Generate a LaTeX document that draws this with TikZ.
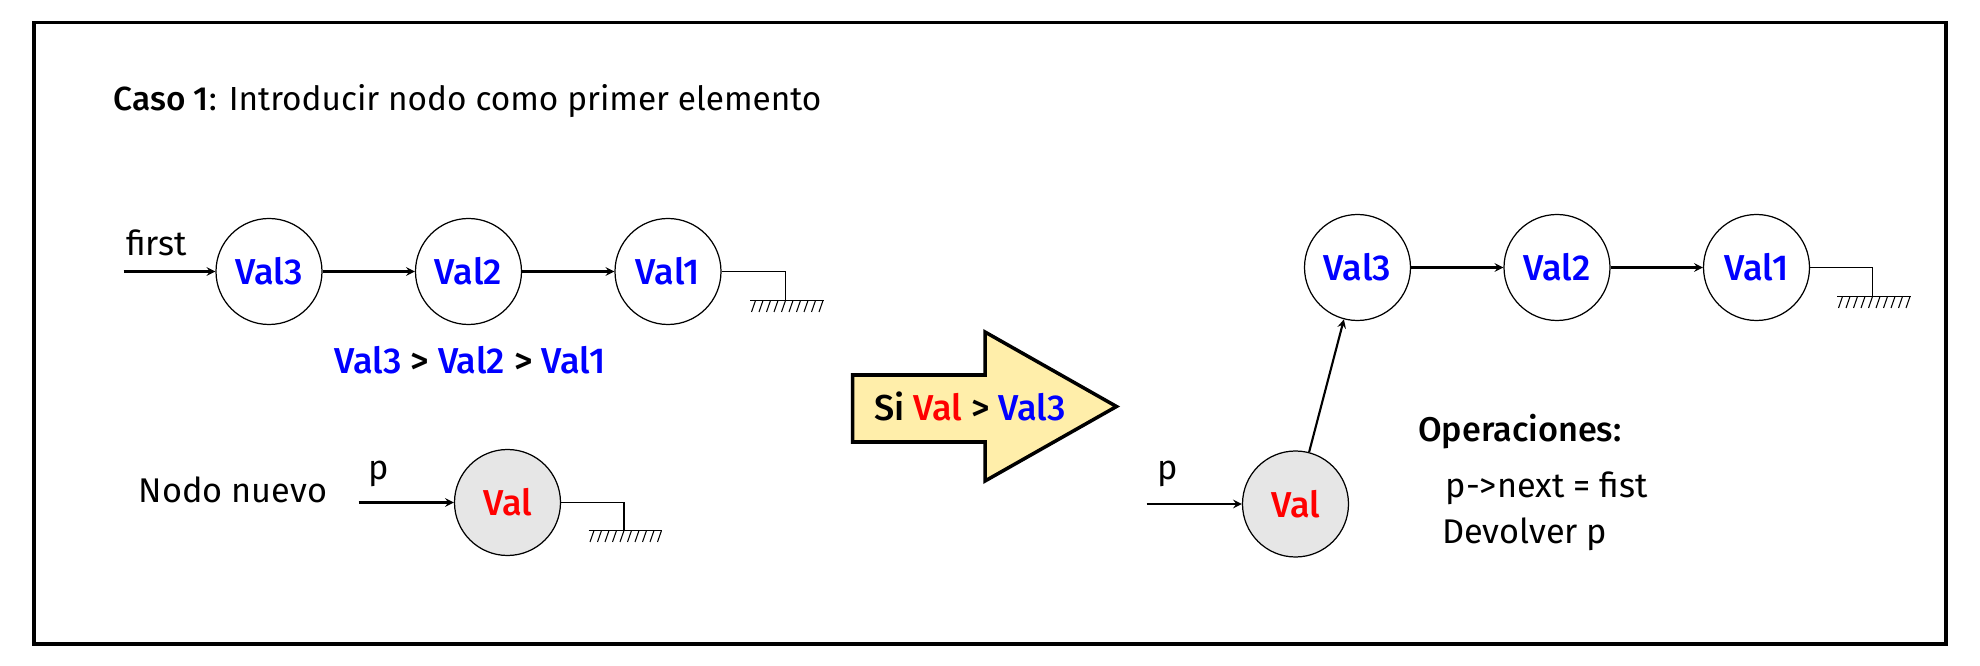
\documentclass[tikz,border=0pt]{standalone}
\usepackage{fontspec}
\setmainfont{Fira Sans}[BoldFont={Fira Sans Medium}]
\definecolor{arrowfill}{RGB}{255,238,170}
\definecolor{newgray}{RGB}{230,230,230}
% ground symbol under the end of a list
\newcommand{\groundat}[1]{%
  \draw[line width=1.1pt] ([xshift=-0.71cm]#1) -- ([xshift=0.76cm]#1);
  \foreach \i in {0,...,9}
    \draw[line width=0.6pt] ([xshift=-0.6cm+\i*0.15cm]#1) -- ++(-0.08,-0.23);
}
\begin{document}
\begin{tikzpicture}[>=stealth,
  plain/.style={font=\fontsize{19.5}{22}\selectfont},
  strong/.style={font=\fontsize{20.5}{23}\selectfont\bfseries},
  listnode/.style={draw, circle, minimum size=2.12cm, inner sep=0pt, line width=0.7pt, strong, text=blue},
  newnode/.style={listnode, fill=newgray, text=red},
  link/.style={->, line width=1.2pt}]
\useasboundingbox (0,0) rectangle (39.6,-13.32);
\draw[line width=2pt] (0.68,-0.455) rectangle (38.92,-12.88);
\node[plain, font=\fontsize{19}{22}\selectfont, anchor=base west] (title) at (2.15,-2.22) {\textbf{Caso 1}: Introducir nodo como primer elemento};
% list before
\node[listnode] (l3) at (5.38,-5.43) {Val3};
\node[listnode] (l2) at (9.37,-5.43) {Val2};
\node[listnode] (l1) at (13.36,-5.43) {Val1};
\coordinate (lin) at (2.47,-5.43);
\node[plain] (lfirst) at (3.13,-4.85) {first};
\draw[link] (lin) -- (l3);
\draw[link] (l3) -- (l2);
\draw[link] (l2) -- (l1);
\coordinate (lg) at (15.71,-6.01);
\draw[line width=1.1pt] (l1) -| (lg);
\groundat{lg}
\node[strong] (order) at (9.40,-7.20) {\textcolor{blue}{Val3} > \textcolor{blue}{Val2} > \textcolor{blue}{Val1}};
% new node
\node[plain] (nn) at (4.66,-9.80) {Nodo nuevo};
\node[newnode] (nv) at (10.15,-10.05) {Val};
\coordinate (np) at (7.17,-10.05);
\node[plain] (npl) at (7.58,-9.47) {p};
\draw[link] (np) -- (nv);
\coordinate (ng) at (12.48,-10.61);
\draw[line width=1.1pt] (nv) -| (ng);
\groundat{ng}
% condition arrow
\draw[line width=2pt, fill=arrowfill] (17.05,-7.50) -- (19.70,-7.50) -- (19.70,-6.64) -- (22.33,-8.13) -- (19.70,-9.62) -- (19.70,-8.84) -- (17.05,-8.84) -- cycle;
\node[strong] (cond) at (19.40,-8.13) {Si \textcolor{red}{Val} > \textcolor{blue}{Val3}};
% list after
\node[listnode] (r3) at (27.15,-5.35) {Val3};
\node[listnode] (r2) at (31.14,-5.35) {Val2};
\node[listnode] (r1) at (35.13,-5.35) {Val1};
\draw[link] (r3) -- (r2);
\draw[link] (r2) -- (r1);
\coordinate (rg) at (37.45,-5.93);
\draw[line width=1.1pt] (r1) -| (rg);
\groundat{rg}
\node[newnode] (rv) at (25.91,-10.08) {Val};
\coordinate (rp) at (22.93,-10.08);
\node[plain] (rpl) at (23.36,-9.47) {p};
\draw[link] (rp) -- (rv);
\draw[link] (rv) -- (r3);
% operations
\node[plain, anchor=west, font=\fontsize{19.5}{22}\selectfont\bfseries] (ops) at (28.24,-8.64) {Operaciones:};
\node[plain, anchor=west] (op1) at (28.79,-9.77) {p->next = fist};
\node[plain, anchor=west] (op2) at (28.72,-10.68) {Devolver p};
\end{tikzpicture}
\end{document}
